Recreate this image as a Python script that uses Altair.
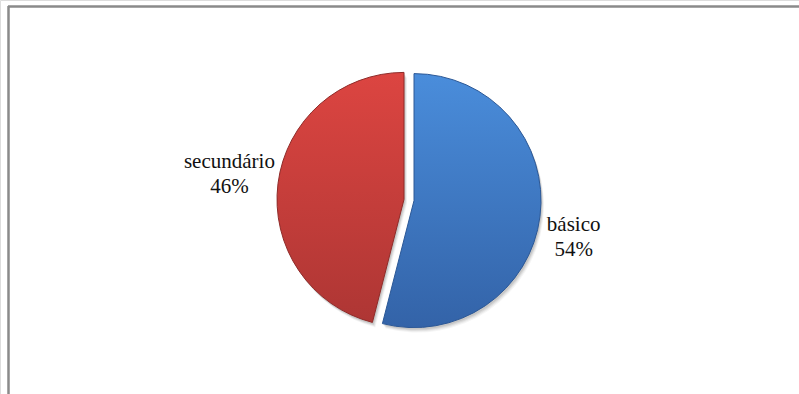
import altair as alt
import pandas as pd

categories = ["básico", "secundário"]
values = [54, 46]
order = [0, 1]

df = pd.DataFrame({"cat": categories, "value": values, "order": order})

W, H = 799, 394
CX, CY = 409, 200
R = 127

base = (
    alt.Chart(df)
    .transform_joinaggregate(total="sum(value)")
    .transform_window(cum="sum(value)", sort=[alt.SortField("order")], frame=[None, 0])
    .transform_calculate(
        t1="2*PI*(datum.cum - datum.value)/datum.total",
        t2="2*PI*datum.cum/datum.total",
        pct="format(datum.value/datum.total, '.0%')",
    )
    .transform_calculate(mid="(datum.t1 + datum.t2)/2", label="datum.cat + '\\n' + datum.pct")
)


def grad(top, bottom):
    return alt.Gradient(
        gradient="linear",
        x1=0, x2=0, y1=0, y2=1,
        stops=[alt.GradientStop(color=top, offset=0), alt.GradientStop(color=bottom, offset=1)],
    )


styles = {
    "básico": dict(top="#4a8ddb", bottom="#3363a8", edge="#2c5896", xo=5, yo=0.6, lr=166, ldy=4),
    "secundário": dict(top="#dc4541", bottom="#ae3634", edge="#8f2b29", xo=-5, yo=-0.6, lr=181, ldy=-15),
}

layers = []
for cat, s in styles.items():
    sub = base.transform_filter(alt.datum.cat == cat)
    enc = dict(
        theta=alt.Theta("t1:Q", scale=None),
        theta2="t2:Q",
        x=alt.value(CX),
        y=alt.value(CY),
    )
    # soft shadow
    for off, op in [(5, 0.04), (4, 0.05), (3, 0.07), (2, 0.08)]:
        layers.append(
            sub.mark_arc(outerRadius=R, fill="#000000", opacity=op, xOffset=s["xo"] + off * 0.6, yOffset=s["yo"] + off)
            .encode(**enc)
        )
    layers.append(
        sub.mark_arc(
            outerRadius=R,
            fill=grad(s["top"], s["bottom"]),
            stroke=s["edge"],
            strokeWidth=1,
            xOffset=s["xo"],
            yOffset=s["yo"],
        ).encode(**enc)
    )
    layers.append(
        sub.mark_text(
            fontSize=21,
            lineBreak="\n",
            lineHeight=25,
            color="#111111",
            align="center",
            baseline="middle",
            dy=s["ldy"],
        ).encode(
            theta=alt.Theta("mid:Q", scale=None),
            radius=alt.value(s["lr"]),
            x=alt.value(CX),
            y=alt.value(CY),
            text="label:N",
        )
    )

frame_left = alt.Chart(df).mark_rule(color="#8a8a8a", strokeWidth=2).encode(
    x=alt.value(8.5), y=alt.value(6), y2=alt.value(H)
)
frame_top = alt.Chart(df).mark_rule(color="#8a8a8a", strokeWidth=2).encode(
    x=alt.value(8), x2=alt.value(W), y=alt.value(6.5)
)

chart = (
    alt.layer(*layers, frame_left, frame_top)
    .properties(width=W, height=H, padding=0, autosize=alt.AutoSizeParams(type="none"))
    .configure_view(stroke=None)
    .configure_text(font="Liberation Serif")
    .configure(background="white", font="Liberation Serif")
)

chart.save("out.html", embed_options={"renderer": "svg", "actions": False})
